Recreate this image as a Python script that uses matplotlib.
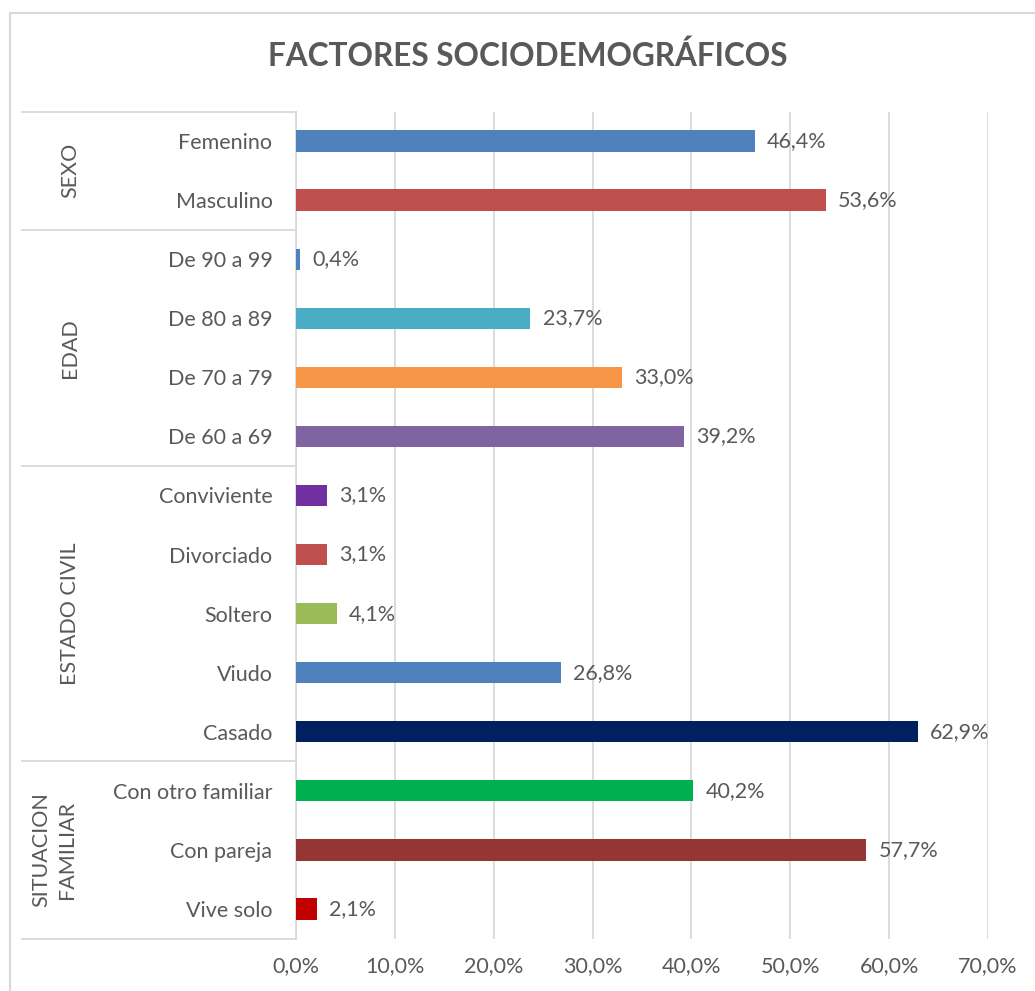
import matplotlib.pyplot as plt
from matplotlib.lines import Line2D
import matplotlib.transforms as mtransforms

plt.rcParams['font.family'] = ['Lato', 'DejaVu Sans']

categories = ["Femenino", "Masculino",
              "De 90 a 99", "De 80 a 89", "De 70 a 79", "De 60 a 69",
              "Conviviente", "Divorciado", "Soltero", "Viudo", "Casado",
              "Con otro familiar", "Con pareja", "Vive solo"]
values = [0.464, 0.536,
          0.004, 0.237, 0.330, 0.392,
          0.031, 0.031, 0.041, 0.268, 0.629,
          0.402, 0.577, 0.021]
colors = ["#4F81BD", "#C0504D",
          "#4F81BD", "#4BACC6", "#F79646", "#8064A2",
          "#7030A0", "#C0504D", "#9BBB59", "#4F81BD", "#002060",
          "#00B050", "#943634", "#C00000"]
groups = ["SEXO", "EDAD", "ESTADO CIVIL", "SITUACION\nFAMILIAR"]
group_sizes = [2, 4, 5, 3]
xticks = [0, 0.1, 0.2, 0.3, 0.4, 0.5, 0.6, 0.7]

TXT = "#595959"
GRID = "#D9D9D9"
W, H = 1035, 991
FS = 15.5

fig = plt.figure(figsize=(W / 100, H / 100), dpi=100)
x0, x1 = 296, 988
y0, y1 = 111.5, 938.5
ax = fig.add_axes([x0 / W, 1 - y1 / H, (x1 - x0) / W, (y1 - y0) / H])

pos = list(range(len(categories)))
ax.barh(pos, values, height=0.36, color=colors, zorder=3)
for p, v in zip(pos, values):
    ax.text(v + 0.0125, p, f"{v * 100:.1f}%".replace(".", ","),
            va="center", ha="left", fontsize=FS, color=TXT)

ax.set_xlim(0, 0.7)
ax.set_ylim(len(categories) - 0.5, -0.5)
ax.set_xticks(xticks)
ax.set_xticklabels([f"{t * 100:.1f}%".replace(".", ",") for t in xticks])
ax.set_yticks(pos)
ax.set_yticklabels(categories)
ax.tick_params(axis="both", length=0, labelsize=FS, colors=TXT)
ax.tick_params(axis="y", pad=17)
ax.tick_params(axis="x", pad=13)
ax.xaxis.grid(True, color=GRID, linewidth=1.3, zorder=0)
for s in ["top", "right", "bottom"]:
    ax.spines[s].set_visible(False)
ax.spines["left"].set_color(GRID)
ax.spines["left"].set_linewidth(1.3)

# group separators and group labels
trans = mtransforms.blended_transform_factory(ax.transAxes, ax.transData)
left_frac = (22 - x0) / (x1 - x0)
start = -0.5
bounds = [start]
for g, n in zip(groups, group_sizes):
    end = start + n
    bounds.append(end)
    lx = 54 if "\n" in g else 70
    ax.text((lx - x0) / (x1 - x0), (start + end) / 2, g, transform=trans,
            rotation=90, ha="center", va="center", fontsize=FS, color=TXT,
            linespacing=1.35, multialignment="center")
    start = end
for b in bounds:
    ax.add_line(Line2D([left_frac, 0], [b, b], transform=trans, color=GRID,
                       linewidth=1.3, clip_on=False))

# chart border (top and left visible)
fig.add_artist(Line2D([10 / W, 1], [1 - 12.5 / H, 1 - 12.5 / H],
                      transform=fig.transFigure, color=GRID, linewidth=1.5))
fig.add_artist(Line2D([10 / W, 10 / W], [1 - 12.5 / H, 0],
                      transform=fig.transFigure, color=GRID, linewidth=1.5))

fig.text(528 / W, 1 - 56 / H, "FACTORES SOCIODEMOGRÁFICOS", ha="center",
         va="center", fontsize=22.7, fontweight="bold", color=TXT)

fig.savefig("out.png", dpi=100)
